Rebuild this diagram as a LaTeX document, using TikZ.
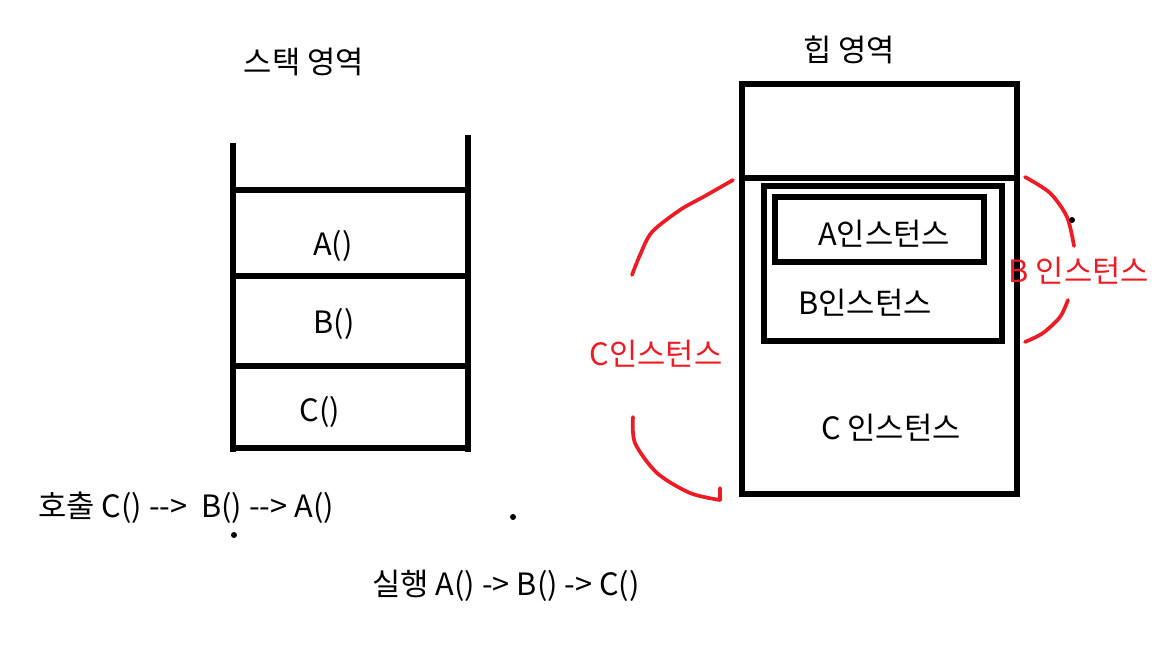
\documentclass[tikz,border=0pt]{standalone}
\usepackage{fontspec}
\setmainfont{Noto Sans CJK KR}
\usepackage{xcolor}
\usepackage{tikz}
\usetikzlibrary{calc}
\definecolor{ink}{HTML}{000000}
\definecolor{pen}{HTML}{ED1C24}
\tikzset{
  wall/.style={draw=ink, line width=3.2pt},
  brace/.style={draw=pen, line width=2.1pt, line cap=round, line join=round},
  lab/.style={font=\fontsize{17.5}{20}\selectfont, inner sep=0pt, text=ink},
  labr/.style={lab, text=pen},
  dot/.style={circle, fill=ink, inner sep=1.2pt}
}

\begin{document}
\begin{tikzpicture}[x=0.02cm, y=-0.02cm]
  \useasboundingbox (0,0) rectangle (1152,648);

  % stack
  \coordinate (sTL) at (233,143);
  \coordinate (sTR) at (468,135);
  \coordinate (sBL) at (233,452);
  \coordinate (sBR) at (468,452);
  \draw[wall] (sTL) -- (sBL);
  \draw[wall] (sTR) -- (sBR);
  \foreach \y in {190,276,366,448}
    \draw[wall] (233,\y) -- (468,\y);

  \node[lab] (stackT) at (304,62) {스택 영역};
  \node[lab] (fA) at (333,246) {A()};
  \node[lab] (fB) at (334,324) {B()};
  \node[lab] (fC) at (320,412) {C()};

  % heap
  \coordinate (hTL) at (742,84);
  \coordinate (hBR) at (1017,494);
  \draw[wall] (hTL) rectangle (hBR);
  \draw[wall] (742,178) -- (1017,178);
  \draw[wall] (764,186) rectangle (1002,341);
  \draw[wall] (775,197) rectangle (984,262);

  \node[lab] (heapT) at (849,50) {힙 영역};
  \node[lab] (iA) at (884,234) {A인스턴스};
  \node[lab] (iB) at (865,303) {B인스턴스};
  \node[lab] (iC) at (891,428) {C 인스턴스};

  % red marks
  \draw[brace] plot[smooth] coordinates {(733,180) (705,196) (680,210) (652,232) (640,255) (632,275)};
  \draw[brace] plot[smooth] coordinates {(633,417) (635,443) (657,473) (690,493) (720,500)} -- (720,488);
  \draw[brace] plot[smooth] coordinates {(1025,177) (1050,193) (1067,217) (1074,246)};
  \draw[brace] plot[smooth] coordinates {(1068,300) (1060,317) (1043,333) (1025,342)};
  \node[labr] (rC) at (656,354) {C인스턴스};
  \node[labr] (rB) at (1079,271) {B 인스턴스};

  \node[dot] (d1) at (1072,220) {};
  \node[dot] (d2) at (513,517) {};
  \node[dot] (d3) at (234,535) {};

  \node[lab, anchor=west] (call) at (38,508) {호출 C() -{}->\ \ B() -{}-> A()};
  \node[lab, anchor=west] (run) at (372,586) {실행 A() -> B() -> C()};
\end{tikzpicture}
\end{document}
